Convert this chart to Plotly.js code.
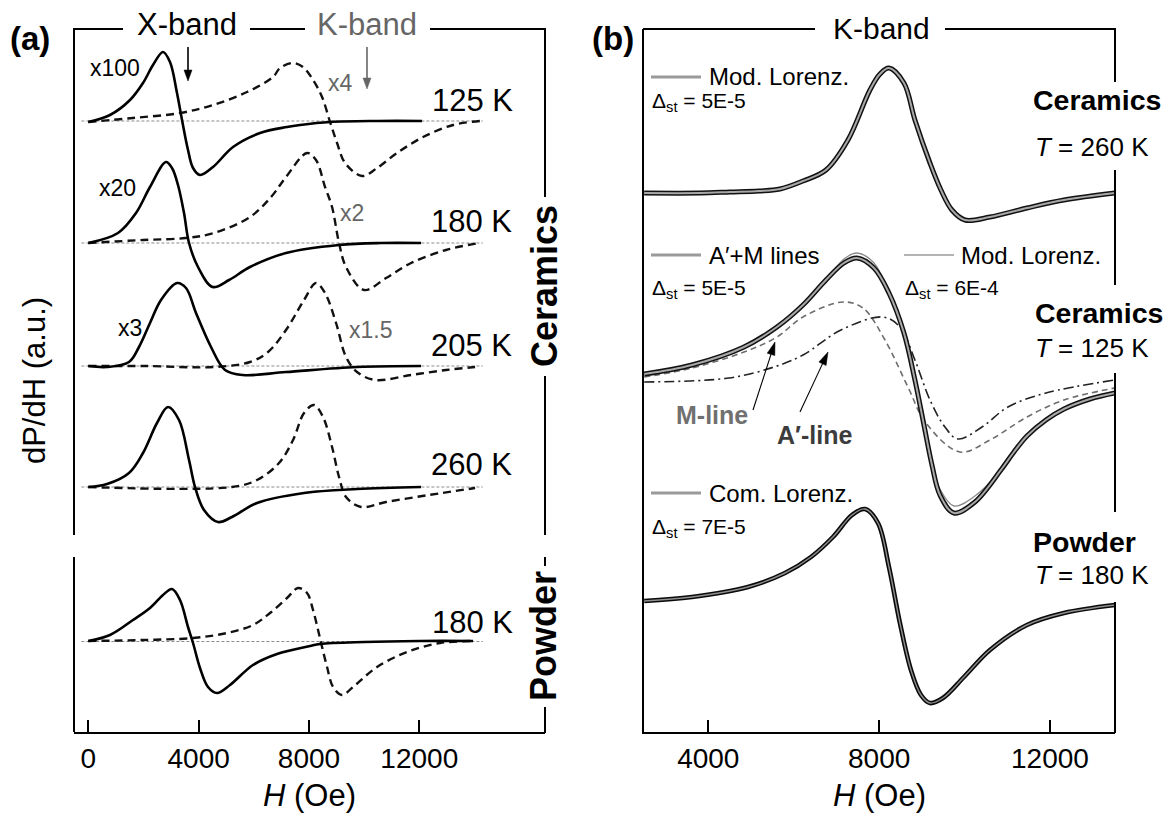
<!DOCTYPE html>
<html>
<head>
<meta charset="utf-8">
<script src="https://cdn.plot.ly/plotly-3.0.1.min.js"></script>
<style>html,body{margin:0;padding:0;background:#fff;}#chart{width:1164px;height:813px;}</style>
</head>
<body>
<div id="chart"></div>
<script>
// ---------------- Panel (a): X-band (solid) and K-band (dashed), stacked, a.u. ----------------
const a125X_H = [0, 787, 1512, 1983, 2346, 2709, 2962, 3216, 3398, 3615, 3797, 4050, 4522, 5247, 6226, 7205, 7677, 8765, 10500, 12100];
const a125X_y = [61.0, 61.7, 63.2, 64.9, 66.7, 68.0, 67.0, 63.9, 61.2, 58.2, 56.4, 55.7, 56.5, 58.5, 59.9, 60.5, 60.7, 61.0, 61.1, 61.1];
const a125K_H = [0, 1621, 3325, 4522, 5755, 6697, 6951, 7423, 7786, 8149, 8475, 8765, 9019, 9309, 9925, 10469, 11194, 12137, 13225, 14204];
const a125K_y = [61.0, 61.4, 61.9, 62.7, 64.0, 65.5, 66.4, 66.9, 66.5, 65.2, 63.5, 61.0, 58.9, 56.9, 55.6, 56.4, 57.9, 59.5, 60.7, 61.1];

const a180X_H = [0, 1077, 1730, 2237, 2817, 3035, 3252, 3470, 3652, 3978, 4503, 5105, 5863, 7168, 9090, 10600, 12063];
const a180X_y = [48.9, 49.9, 51.9, 54.5, 57.0, 56.4, 54.7, 51.9, 48.9, 46.5, 44.5, 45.2, 46.5, 47.9, 48.7, 48.9, 48.9];
const a180K_H = [0, 1988, 3543, 4558, 5863, 6625, 7168, 7930, 8256, 8583, 8837, 9090, 9344, 9997, 10795, 11701, 12970, 14167];
const a180K_y = [48.9, 49.2, 49.4, 49.9, 51.5, 53.5, 55.5, 57.9, 57.2, 54.5, 52.5, 48.9, 46.5, 44.2, 45.4, 46.9, 48.2, 48.9];

const a205X_H = [0, 681, 1476, 1838, 2237, 2636, 3216, 3543, 3905, 4449, 4957, 5609, 7168, 9743, 12063];
const a205X_y = [36.6, 36.5, 37.0, 38.5, 40.9, 43.2, 44.9, 44.4, 41.9, 38.5, 36.2, 35.7, 36.0, 36.5, 36.6];
const a205K_H = [0, 2000, 4558, 5863, 6516, 7168, 7821, 8256, 8583, 8982, 9344, 9743, 10396, 11701, 12970, 14022];
const a205K_y = [36.6, 36.6, 36.5, 37.0, 38.0, 40.2, 43.2, 44.9, 43.9, 40.9, 37.5, 36.0, 35.2, 35.7, 36.2, 36.5];

const a260X_H = [0, 681, 1476, 1983, 2491, 2890, 3289, 3652, 3869, 4195, 4703, 5210, 6117, 7821, 9743, 12063];
const a260X_y = [24.5, 24.8, 25.9, 27.9, 30.9, 32.5, 31.2, 27.2, 24.5, 22.2, 21.0, 21.5, 22.9, 23.9, 24.3, 24.5];
const a260K_H = [0, 5210, 6117, 6915, 7423, 7821, 8184, 8510, 8837, 9090, 9344, 9888, 10795, 12354, 14022];
const a260K_y = [24.5, 24.5, 25.2, 26.9, 29.2, 31.9, 32.7, 31.5, 28.5, 25.5, 23.5, 22.5, 23.0, 23.7, 24.4];

const aPowX_H = [0, 787, 1621, 2237, 2709, 3035, 3325, 3615, 3797, 4050, 4340, 4667, 5138, 5972, 6842, 8039, 8402, 10000, 12000, 13950];
const aPowX_y = [9.1, 9.7, 11.2, 12.4, 13.7, 14.3, 13.2, 10.5, 8.9, 6.4, 4.5, 3.9, 4.7, 6.7, 7.8, 8.6, 8.8, 9.0, 9.1, 9.1];
const aPowK_H = [0, 1983, 3797, 5029, 5972, 6588, 7205, 7604, 7930, 8148, 8330, 8475, 8656, 8874, 9199, 9598, 10469, 11556, 12753, 14022];
const aPowK_y = [9.1, 9.2, 9.4, 9.9, 10.7, 11.9, 13.4, 14.4, 13.9, 12.2, 10.2, 8.5, 6.5, 4.5, 3.7, 4.5, 6.5, 8.0, 8.9, 9.1];

const aBaseH = [-250, 14300];
const aBaselines = [61.1, 48.9, 36.6, 24.5, 9.05];

const aTempLabels = ["125 K", "180 K", "205 K", "260 K", "180 K"];
const aXScale = ["x100", "x20", "x3"];
const aKScale = ["x4", "x2", "x1.5"];
const aTicks = [0, 4000, 8000, 12000];

// ---------------- Panel (b): K-band spectra and fits ----------------
const b260_H = [2500, 3806, 4508, 5187, 5678, 6217, 6755, 7270, 7785, 8020, 8230, 8581, 8838, 9190, 9447, 9704, 10009, 10594, 11461, 12327, 13520];
const b260_y = [53.9, 53.9, 54.0, 54.1, 54.3, 55.1, 56.2, 59.2, 64.2, 65.8, 66.4, 64.9, 61.2, 56.9, 54.2, 52.2, 51.2, 51.5, 52.4, 53.2, 53.9];

const b125_H = [2500, 3618, 4836, 5608, 6217, 6755, 7176, 7481, 7879, 8230, 8581, 8838, 9049, 9237, 9424, 9751, 10243, 10852, 11156, 11461, 11905, 12327, 12936, 13520];
const b125_y = [35.8, 36.7, 38.5, 40.5, 42.7, 45.2, 46.9, 47.4, 46.4, 43.9, 39.9, 35.2, 30.7, 26.7, 23.7, 21.9, 23.0, 26.2, 28.0, 29.6, 31.2, 32.3, 33.3, 33.9];
const b125ModL_y = [35.8, 36.7, 38.5, 40.5, 42.7, 45.2, 47.3, 47.9, 46.9, 43.9, 39.9, 35.2, 30.7, 26.7, 24.3, 22.6, 23.6, 26.2, 28.0, 29.6, 31.2, 32.3, 33.3, 33.9];

const bMline_H = [2500, 3618, 4836, 5608, 6217, 7153, 7621, 8136, 8674, 9096, 9892, 10594, 11461, 12327, 13520];
const bMline_y = [35.5, 36.4, 38.0, 39.5, 41.5, 43.0, 42.4, 39.2, 34.5, 30.9, 28.0, 29.2, 31.5, 33.2, 34.4];
const bAline_H = [2500, 4485, 5538, 6217, 7106, 8090, 8487, 8838, 9190, 9540, 9845, 10407, 11016, 11905, 13520];
const bAline_y = [35.0, 35.4, 36.5, 37.7, 40.2, 41.5, 40.5, 37.2, 33.2, 30.5, 29.3, 30.5, 32.5, 33.9, 35.2];

const bPow_H = [2500, 3618, 4929, 5796, 6404, 6919, 7364, 7668, 7973, 8230, 8487, 8745, 8979, 9190, 9494, 9986, 10594, 11461, 12327, 13520];
const bPow_y = [13.1, 13.5, 14.5, 15.9, 17.5, 19.5, 21.7, 22.3, 20.9, 16.5, 10.9, 6.2, 3.7, 2.9, 3.4, 5.5, 8.2, 10.7, 11.9, 12.7];

const bFitNames = ["Mod. Lorenz.", "A\u2032+M lines", "Mod. Lorenz.", "Com. Lorenz."];
const bDeltas = ["5E-5", "5E-5", "6E-4", "7E-5"];
const bTicks = [4000, 8000, 12000];

// ---------------- Figure geometry helpers ----------------
const FW = 1164, FH = 813, L = 74, R = 1115, T = 29, B = 732;
const px = v => (v - L) / (R - L);
const py = v => (B - v) / (B - T);
const FONT = "Liberation Sans, Arial, Helvetica, sans-serif";

const traces = [];
function line(x, y, xa, ya, color, width, dash, name) {
  traces.push({x: x, y: y, xaxis: xa, yaxis: ya, type: "scatter", mode: "lines", name: name || "",
    showlegend: false, hoverinfo: "skip",
    line: {color: color, width: width, dash: dash || "solid", shape: "spline", smoothing: 1}});
}
// panel (a) baselines
aBaselines.forEach(b => line(aBaseH, [b, b], "x", "y", "#8c8c8c", 1, "3px,2px", "baseline"));
const DASH = "8px,5px";
line(a125K_H, a125K_y, "x", "y", "#111", 2.4, DASH, "K-band 125 K");
line(a125X_H, a125X_y, "x", "y", "#000", 2.6, "solid", "X-band 125 K");
line(a180K_H, a180K_y, "x", "y", "#111", 2.4, DASH, "K-band 180 K");
line(a180X_H, a180X_y, "x", "y", "#000", 2.6, "solid", "X-band 180 K");
line(a205K_H, a205K_y, "x", "y", "#111", 2.4, DASH, "K-band 205 K");
line(a205X_H, a205X_y, "x", "y", "#000", 2.6, "solid", "X-band 205 K");
line(a260K_H, a260K_y, "x", "y", "#111", 2.4, DASH, "K-band 260 K");
line(a260X_H, a260X_y, "x", "y", "#000", 2.6, "solid", "X-band 260 K");
line(aPowK_H, aPowK_y, "x", "y", "#111", 2.4, DASH, "K-band powder 180 K");
line(aPowX_H, aPowX_y, "x", "y", "#000", 2.6, "solid", "X-band powder 180 K");

// panel (b)
line(bMline_H, bMline_y, "x2", "y2", "#6e6e6e", 1.6, "6px,4px", "M-line");
line(bAline_H, bAline_y, "x2", "y2", "#222", 1.6, "10px,4px,2px,4px", "A\u2032-line");
line(b260_H, b260_y, "x2", "y2", "#111", 5, "solid", "Ceramics 260 K");
line(b260_H, b260_y, "x2", "y2", "#a8a8a8", 2, "solid", bFitNames[0]);
line(b125_H, b125ModL_y, "x2", "y2", "#8a8a8a", 1.3, "solid", bFitNames[2]);
line(b125_H, b125_y, "x2", "y2", "#111", 5, "solid", "Ceramics 125 K");
line(b125_H, b125_y, "x2", "y2", "#a8a8a8", 2, "solid", bFitNames[1]);
line(bPow_H, bPow_y, "x2", "y2", "#0a0a0a", 4.6, "solid", "Powder 180 K");
line(bPow_H, bPow_y, "x2", "y2", "#8f8f8f", 1.4, "solid", bFitNames[3]);

// ---------------- Frame shapes ----------------
const shapes = [];
function hseg(y, x0, x1, w, c) { shapes.push({type: "line", xref: "paper", yref: "paper", x0: px(x0), x1: px(x1), y0: py(y), y1: py(y), line: {color: c || "#000", width: w || 2}}); }
function vseg(x, y0, y1, w, c) { shapes.push({type: "line", xref: "paper", yref: "paper", x0: px(x), x1: px(x), y0: py(y0), y1: py(y1), line: {color: c || "#000", width: w || 2}}); }
function arrowShape(x0, y0, x1, y1, color, w, hl, hw) {
  const dx = x1 - x0, dy = y1 - y0, len = Math.hypot(dx, dy), ux = dx / len, uy = dy / len;
  const bx = x1 - hl * ux, by = y1 - hl * uy, nx = -uy, ny = ux;
  shapes.push({type: "line", xref: "paper", yref: "paper", x0: px(x0), y0: py(y0), x1: px(bx + ux), y1: py(by + uy), line: {color: color, width: w}});
  const p = [[x1, y1], [bx + nx * hw / 2, by + ny * hw / 2], [bx - nx * hw / 2, by - ny * hw / 2]];
  shapes.push({type: "path", xref: "paper", yref: "paper", fillcolor: color, line: {color: color, width: 0.5},
    path: "M" + p.map(q => px(q[0]) + "," + py(q[1])).join(" L") + " Z"});
}
// panel (a) frame
hseg(29, 73, 123); hseg(29, 250, 305); hseg(29, 430, 546);
vseg(74, 29, 535); vseg(74, 557, 732);
vseg(545, 29, 197); vseg(545, 376, 535); vseg(545, 557, 566); vseg(545, 707, 733);
// panel (b) frame
hseg(29, 643, 815); hseg(29, 945, 1116);
vseg(1115, 29, 82); vseg(1115, 170, 285); vseg(1115, 373, 512); vseg(1115, 602, 733);
// panel (b) legend samples
hseg(77, 651, 701, 3, "#9a9a9a");
hseg(255, 651, 701, 3, "#9a9a9a");
hseg(255, 904, 954, 1.4, "#9a9a9a");
hseg(493, 651, 701, 3, "#9a9a9a");
// arrows
arrowShape(188, 47, 188, 81, "#000", 1.6, 11, 8);
arrowShape(367, 47, 367, 89, "#666", 1.6, 11, 8);
arrowShape(753, 410, 775, 342, "#000", 1.1, 13, 8);
arrowShape(800, 412, 828, 352, "#000", 1.1, 13, 8);

// ---------------- Annotations ----------------
const ann = [];
function txt(t, x, y, size, opts) {
  opts = opts || {};
  ann.push({text: t, xref: "paper", yref: "paper", x: px(x), y: py(y), showarrow: false,
    xanchor: opts.xa || "center", yanchor: "middle", textangle: opts.angle || 0,
    font: {family: FONT, size: size, color: opts.color || "#000"}});
}
// panel (a)
txt("<b>(a)</b>", 30, 38, 33);
txt("X-band", 187, 25, 31);
txt("K-band", 367, 25, 31, {color: "#666"});
txt(aXScale[0], 115, 68, 23);
txt(aKScale[0], 340, 83, 23, {color: "#666"});
txt(aXScale[1], 117, 188, 23);
txt(aKScale[1], 352, 213, 23, {color: "#666"});
txt(aXScale[2], 130, 328, 23);
txt(aKScale[2], 370, 330, 23, {color: "#666"});
txt(aTempLabels[0], 472, 100, 31);
txt(aTempLabels[1], 471, 222, 31);
txt(aTempLabels[2], 471, 345, 31);
txt(aTempLabels[3], 471, 465, 31);
txt(aTempLabels[4], 472, 622, 31);
txt("<b>Ceramics</b>", 544, 286, 36, {angle: -90});
txt("<b>Powder</b>", 543, 636, 36, {angle: -90});
// panel (b)
txt("<b>(b)</b>", 613, 38, 33);
txt("K-band", 881, 28, 30);
txt(bFitNames[0], 707, 77, 24, {xa: "left"});
txt("\u0394<sub>st</sub> = " + bDeltas[0], 650, 102, 21, {xa: "left"});
txt("<b>Ceramics</b>", 1031, 100, 28.5, {xa: "left"});
txt("<i>T</i> = 260 K", 1033, 147, 26, {xa: "left"});
txt(bFitNames[1], 707, 255, 24, {xa: "left"});
txt("\u0394<sub>st</sub> = " + bDeltas[1], 650, 289, 21, {xa: "left"});
txt(bFitNames[2], 959, 255, 24, {xa: "left"});
txt("\u0394<sub>st</sub> = " + bDeltas[2], 903, 289, 21, {xa: "left"});
txt("<b>Ceramics</b>", 1033, 313, 28.5, {xa: "left"});
txt("<i>T</i> = 125 K", 1033, 348, 26, {xa: "left"});
txt("<b>M-line</b>", 712, 415, 25, {color: "#707070"});
txt("<b>A\u2032-line</b>", 815, 435, 25, {color: "#3c3c3c"});
txt(bFitNames[3], 707, 493, 24, {xa: "left"});
txt("\u0394<sub>st</sub> = " + bDeltas[3], 650, 528, 21, {xa: "left"});
txt("<b>Powder</b>", 1031, 542, 28.5, {xa: "left"});
txt("<i>T</i> = 180 K", 1033, 575, 26, {xa: "left"});

// ---------------- Layout ----------------
const xCommon = {ticks: "inside", ticklen: 12, tickwidth: 2, tickcolor: "#000", showline: true, linewidth: 2, linecolor: "#000",
  showgrid: false, zeroline: false, tickfont: {family: FONT, size: 28, color: "#000"}, automargin: false, fixedrange: true,
  title: {text: "<i>H</i> (Oe)", font: {family: FONT, size: 31, color: "#000"}}};
const layout = {
  width: FW, height: FH, paper_bgcolor: "#fff", plot_bgcolor: "#fff", showlegend: false,
  margin: {l: L, r: FW - R, t: T, b: FH - B, pad: 0},
  font: {family: FONT, color: "#000"},
  xaxis: Object.assign({}, xCommon, {domain: [0, px(545)], range: [-518, 16557], tickvals: aTicks, ticktext: aTicks.map(String), anchor: "y"}),
  xaxis2: Object.assign({}, xCommon, {domain: [px(644), 1], range: [2495, 13522], tickvals: bTicks, ticktext: bTicks.map(String), anchor: "y2"}),
  yaxis: {domain: [0, 1], range: [0, 70.3], showticklabels: false, ticks: "", showline: false, showgrid: false, zeroline: false,
    automargin: true, fixedrange: true, anchor: "x",
    title: {text: "dP/dH (a.u.)", standoff: 18, font: {family: FONT, size: 31, color: "#000"}}},
  yaxis2: {domain: [0, 1], range: [0, 70.3], showticklabels: false, ticks: "", showline: true, linewidth: 2, linecolor: "#000",
    showgrid: false, zeroline: false, automargin: false, fixedrange: true, anchor: "x2"},
  shapes: shapes,
  annotations: ann
};
Plotly.newPlot("chart", traces, layout, {displayModeBar: false, staticPlot: true});
</script>
</body>
</html>
